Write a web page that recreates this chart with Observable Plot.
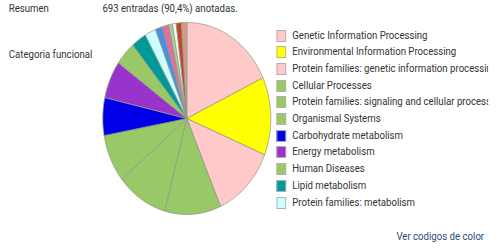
<!DOCTYPE html>
<html>
<head>
<meta charset="utf-8">
<script src="https://cdn.jsdelivr.net/npm/d3@7"></script>
<script src="https://cdn.jsdelivr.net/npm/@observablehq/plot@0.6"></script>
<style>
  html, body { margin: 0; padding: 0; background: #fff; }
  body { width: 501px; height: 249px; overflow: hidden; font-family: Roboto, "Noto Sans", sans-serif; color: #333; }
  #wrap { position: absolute; left: 0; top: 0; width: 573px; height: 249px; transform: scale(0.875, 1); transform-origin: 0 0; }
  .t { position: absolute; font-size: 11px; line-height: 13px; white-space: nowrap; }
  #pie { position: absolute; }
  #legend { position: absolute; left: 314px; top: 28.5px; width: 244px; height: 184px; overflow: hidden; }
  .row { position: absolute; left: 0; height: 17px; white-space: nowrap; font-size: 11px; line-height: 13px; }
  .sw { position: absolute; left: 2px; top: 1px; width: 9px; height: 10px; border: 1px solid #b0b0b0; }
  .lb { position: absolute; left: 20px; top: 0px; }
</style>
</head>
<body>
<div id="wrap">
  <div class="t" style="left:10px; top:2px;">Resumen</div>
  <div class="t" id="summary" style="left:117px; top:2px;"></div>
  <div class="t" style="left:10px; top:48px;">Categoria funcional</div>
  <div id="pie"></div>
  <div id="legend"></div>
  <div class="t" id="link" style="left:453px; top:230px; color:#2f4a78;">Ver codigos de color</div>
</div>
<script>
const summaryText = "693 entradas (90,4%) anotadas.";
const linkText = "Ver codigos de color";
const categories = [
  "Genetic Information Processing",
  "Environmental Information Processing",
  "Protein families: genetic information processing",
  "Cellular Processes",
  "Protein families: signaling and cellular processes",
  "Organismal Systems",
  "Carbohydrate metabolism",
  "Energy metabolism",
  "Human Diseases",
  "Lipid metabolism",
  "Protein families: metabolism",
  "Nucleotide metabolism",
  "Amino acid metabolism",
  "Metabolism of other amino acids",
  "Glycan biosynthesis and metabolism",
  "Metabolism of cofactors and vitamins",
  "Metabolism of terpenoids and polyketides"
];
const counts = [125, 91, 85, 75, 68, 56, 44, 44, 28, 20, 15, 9, 9, 5, 5, 7, 7];
const colors = [
  "#ffc9c9", "#ffff00", "#ffc9c9", "#99c866", "#99c866", "#99c866",
  "#0000e8", "#9933cc", "#99c866", "#009999", "#ccffff",
  "#4a90e2", "#e0709a", "#a8d490", "#f4f8f0", "#c0452a", "#d89a86"
];
const legendShown = 11;

document.getElementById("summary").textContent = summaryText;
document.getElementById("link").textContent = linkText;

// Build slice outlines from d3.pie angles (clockwise from 12 o'clock)
const arcs = d3.pie().sort(null).value(d => d)(counts);
const pts = [];
arcs.forEach((a, i) => {
  const name = categories[i];
  pts.push({k: name, x: 0, y: 0});
  const n = Math.max(2, Math.ceil((a.endAngle - a.startAngle) / (Math.PI / 180)));
  for (let j = 0; j <= n; j++) {
    const t = a.startAngle + (a.endAngle - a.startAngle) * j / n;
    pts.push({k: name, x: Math.sin(t), y: Math.cos(t)});
  }
  pts.push({k: name, x: 0, y: 0});
});

const R = 96, m = 2;
const chart = Plot.plot({
  width: 2 * R + 2 * m,
  height: 2 * R + 2 * m,
  margin: m,
  x: {domain: [-1, 1], axis: null},
  y: {domain: [-1, 1], axis: null},
  color: {domain: categories, range: colors},
  marks: [
    Plot.line(pts, {x: "x", y: "y", z: "k", fill: "k", stroke: "#8f9a88", strokeWidth: 0.8, curve: "linear-closed"})
  ]
});
const pieDiv = document.getElementById("pie");
pieDiv.style.left = (212.6 - R - m) + "px";
pieDiv.style.top = (117.5 - R - m) + "px";
pieDiv.appendChild(chart);

const lg = document.getElementById("legend");
categories.forEach((c, i) => {
  const row = document.createElement("div");
  row.className = "row";
  row.style.top = (i * 16.7) + "px";
  const sw = document.createElement("div");
  sw.className = "sw";
  sw.style.background = colors[i];
  const lb = document.createElement("div");
  lb.className = "lb";
  lb.textContent = c;
  row.appendChild(sw); row.appendChild(lb);
  lg.appendChild(row);
});
lg.style.height = (legendShown * 16.7) + "px";
</script>
</body>
</html>
